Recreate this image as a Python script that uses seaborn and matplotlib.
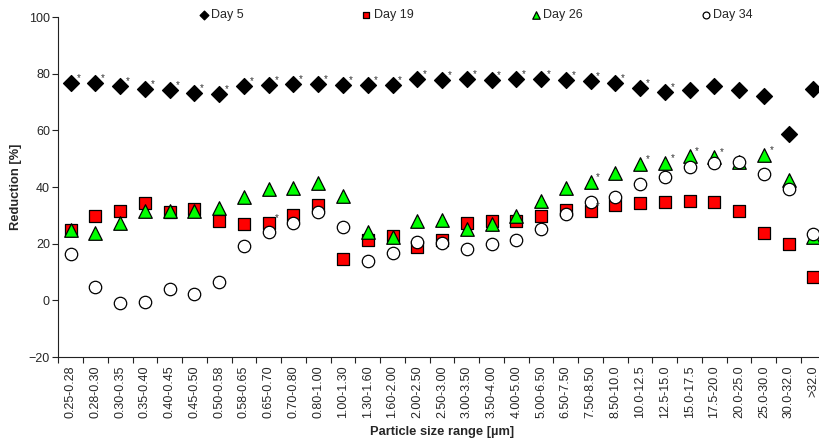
import numpy as np
import pandas as pd
import seaborn as sns
import matplotlib
matplotlib.use("Agg")
import matplotlib.pyplot as plt
from matplotlib.ticker import FixedLocator, MultipleLocator

# Particle size classes [um]
categories = ['0.25-0.28', '0.28-0.30', '0.30-0.35', '0.35-0.40', '0.40-0.45',
              '0.45-0.50', '0.50-0.58', '0.58-0.65', '0.65-0.70', '0.70-0.80',
              '0.80-1.00', '1.00-1.30', '1.30-1.60', '1.60-2.00', '2.00-2.50',
              '2.50-3.00', '3.00-3.50', '3.50-4.00', '4.00-5.00', '5.00-6.50',
              '6.50-7.50', '7.50-8.50', '8.50-10.0', '10.0-12.5', '12.5-15.0',
              '15.0-17.5', '17.5-20.0', '20.0-25.0', '25.0-30.0', '30.0-32.0',
              '>32.0']

# Reduction [%] per day
day5 = [76.6, 76.6, 75.6, 74.5, 74.1, 73.2, 72.7, 75.6, 76.0, 76.4,
        76.5, 76.0, 76.0, 76.0, 78.1, 77.8, 78.1, 77.8, 78.2, 78.2,
        77.8, 77.5, 76.6, 74.9, 73.4, 74.2, 75.6, 74.2, 72.1, 58.6,
        74.6]
day19 = [25.0, 29.8, 31.6, 34.5, 31.3, 32.2, 28.0, 26.8, 27.2, 30.0,
         33.6, 14.5, 21.3, 22.7, 18.9, 21.3, 27.2, 28.1, 28.0, 29.9,
         31.9, 31.6, 33.8, 34.3, 34.6, 34.9, 34.8, 31.6, 23.6, 19.8,
         8.3]
day26 = [24.8, 23.6, 27.2, 31.6, 31.6, 31.6, 32.5, 36.6, 39.3, 39.5,
         41.3, 36.9, 24.0, 22.5, 28.1, 28.3, 25.2, 26.9, 29.8, 35.0,
         39.7, 41.9, 45.0, 48.0, 48.6, 51.1, 50.7, 48.9, 51.3, 42.5,
         22.3]
day34 = [16.2, 4.6, -1.1, -0.7, 4.0, 2.1, 6.6, 19.3, 24.0, 27.2,
         31.3, 26.0, 14.0, 16.8, 20.5, 20.1, 18.0, 19.8, 21.3, 25.2,
         30.5, 34.6, 36.6, 40.9, 43.6, 47.2, 48.6, 48.9, 44.6, 39.3,
         23.3]

# significant classes (marked with *)
stars_day5 = list(range(0, 25))
stars_day19 = [8, 21]
stars_day26 = [21, 23, 24, 25, 26, 28]
stars_day34 = []


def main():
    sns.set_theme(style="ticks")
    plt.rcParams['font.family'] = ['Liberation Sans', 'DejaVu Sans']

    series = [
        ('Day 5', day5, 'D', 'black', 66, stars_day5),
        ('Day 19', day19, 's', '#FF0000', 78, stars_day19),
        ('Day 26', day26, '^', '#00FF00', 95, stars_day26),
        ('Day 34', day34, 'o', 'white', 80, stars_day34),
    ]

    fig = plt.figure(figsize=(8.19, 4.40), dpi=100)
    ax = fig.add_axes([0.0712, 0.1886, 0.937, 0.7727])

    x = np.arange(len(categories))
    for label, vals, marker, color, size, stars in series:
        df = pd.DataFrame({'x': x, 'y': vals})
        sns.scatterplot(data=df, x='x', y='y', marker=marker, color=color,
                        edgecolor='black', linewidth=0.9, s=size, ax=ax,
                        label=label, clip_on=False, zorder=3)
        for i in stars:
            ax.annotate('*', xy=(x[i], vals[i]), xytext=(5.5, 3.5),
                        textcoords='offset points', fontsize=7,
                        color='#333333', ha='center', va='center', zorder=4)

    ax.set_xlim(-0.5, len(categories) - 0.5)
    ax.set_ylim(-20, 100)
    ax.yaxis.set_major_locator(MultipleLocator(20))
    ax.set_xticks(x)
    ax.set_xticklabels(categories, rotation=90, fontsize=9)
    ax.xaxis.set_minor_locator(FixedLocator(np.arange(-0.5, len(categories), 1.0)))
    ax.tick_params(axis='x', which='major', length=0, pad=6)
    ax.tick_params(axis='x', which='minor', length=4, width=0.8, color='#222222')
    ax.tick_params(axis='y', length=4, width=0.8, color='#222222', labelsize=9, pad=2)

    for side in ['top', 'right']:
        ax.spines[side].set_visible(False)
    for side in ['left', 'bottom']:
        ax.spines[side].set_color('#222222')
        ax.spines[side].set_linewidth(0.8)

    ax.set_xlabel('Particle size range [µm]', fontsize=9.3, fontweight='bold', labelpad=6)
    ax.set_ylabel('Reduction [%]', fontsize=9.3, fontweight='bold', labelpad=5)

    handles, labels = ax.get_legend_handles_labels()
    ax.get_legend().remove()
    fig.legend(handles, labels, loc='center left', bbox_to_anchor=(0.244, 0.966),
               ncol=4, frameon=False, fontsize=9, markerscale=0.55,
               handlelength=0.6, handletextpad=0.3, columnspacing=9.5,
               borderpad=0, borderaxespad=0)

    fig.savefig('out.png', dpi=100)


if __name__ == "__main__":
    main()
